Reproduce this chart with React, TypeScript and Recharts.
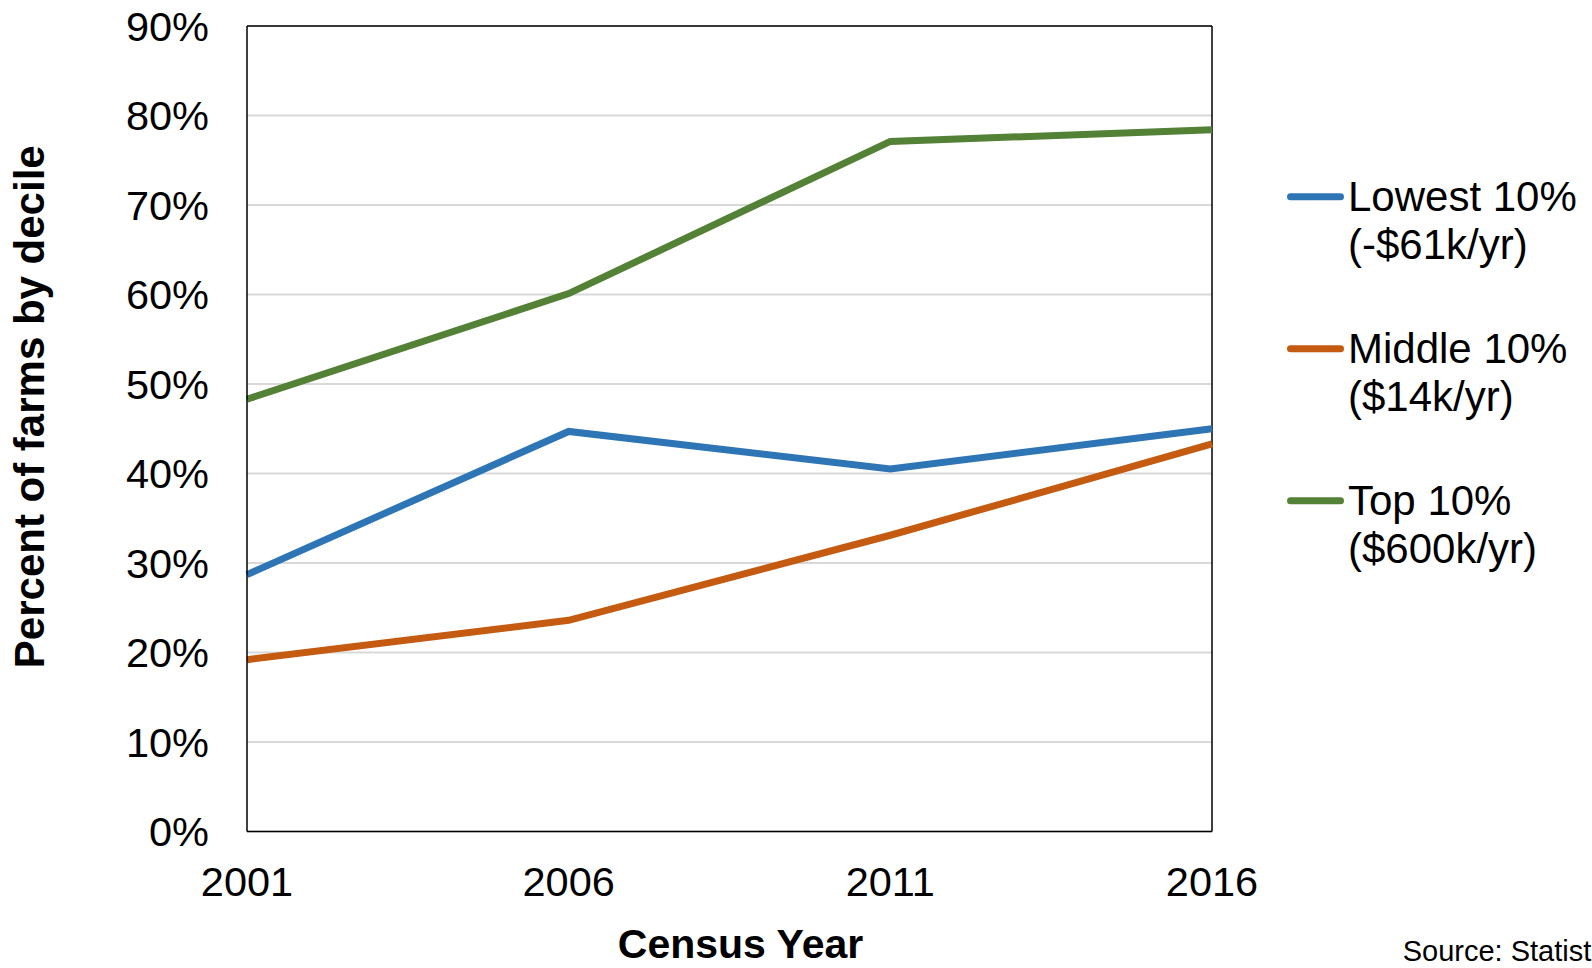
import React from 'react';
import {
  LineChart,
  Line,
  XAxis,
  YAxis,
  CartesianGrid,
  ReferenceLine,
  Legend,
} from 'recharts';

// Census years on the category axis
const years = ['2001', '2006', '2011', '2016'];

// Share of farms (percent) in each income decile, per census
const lowestDecile = [28.7, 44.7, 40.5, 45.0];
const middleDecile = [19.2, 23.6, 33.1, 43.3];
const topDecile = [48.3, 60.1, 77.1, 78.4];

// Y-axis ticks (percent)
const yTicks = [0, 10, 20, 30, 40, 50, 60, 70, 80, 90];

// Legend text: decile name and average income
const seriesKeys = ['lowest', 'middle', 'top'];
const seriesNames = ['Lowest 10%', 'Middle 10%', 'Top 10%'];
const seriesIncome = ['(-$61k/yr)', '($14k/yr)', '($600k/yr)'];
const seriesColors = ['#2E75B6', '#C55A11', '#538135'];

const data = years.map((year, i) => ({
  year,
  lowest: lowestDecile[i],
  middle: middleDecile[i],
  top: topDecile[i],
}));

const FONT = '"Liberation Sans", Arial, Helvetica, sans-serif';

const LegendContent = () => (
  <svg width={312} height={440} style={{ display: 'block' }}>
    {seriesKeys.map((key, i) => (
      <g key={key}>
        <line
          x1={10.5}
          x2={60.5}
          y1={26.7 + 152 * i}
          y2={26.7 + 152 * i}
          stroke={seriesColors[i]}
          strokeWidth={7}
          strokeLinecap="round"
        />
        <text x={68} y={40.7 + 152 * i} fontSize={42} fontFamily={FONT} fill="#000">
          {seriesNames[i]}
        </text>
        <text x={68} y={89 + 152 * i} fontSize={42} fontFamily={FONT} fill="#000">
          {seriesIncome[i]}
        </text>
      </g>
    ))}
  </svg>
);

const XTitle = (props: any) => {
  const vb = props.viewBox || {};
  return (
    <text
      x={vb.x + vb.width / 2 + 11}
      y={958}
      textAnchor="middle"
      fontSize={41}
      fontWeight="bold"
      fontFamily={FONT}
      fill="#000"
    >
      Census Year
    </text>
  );
};

const YTitle = (props: any) => {
  const vb = props.viewBox || {};
  const cy = vb.y + vb.height / 2 - 22;
  return (
    <text
      x={44}
      y={cy}
      transform={`rotate(-90, 44, ${cy})`}
      textAnchor="middle"
      fontSize={42}
      fontWeight="bold"
      fontFamily={FONT}
      fill="#000"
    >
      Percent of farms by decile
    </text>
  );
};

export default function App() {
  return (
    <div
      style={{
        position: 'absolute',
        left: 0,
        top: 0,
        width: 1592,
        height: 968,
        overflow: 'hidden',
        background: '#fff',
        fontFamily: FONT,
      }}
    >
      <LineChart
        width={1592}
        height={968}
        data={data}
        margin={{ top: 26, right: 380, bottom: 0, left: 0 }}
      >
        <CartesianGrid vertical={false} stroke="#D9D9D9" strokeWidth={2} />
        <XAxis
          dataKey="year"
          height={136.5}
          tickLine={false}
          tickSize={0}
          tickMargin={35}
          axisLine={{ stroke: '#000', strokeWidth: 1.5 }}
          tick={{ fontSize: 41.5, fill: '#000', fontFamily: FONT }}
          interval={0}
          label={<XTitle />}
        />
        <YAxis
          width={247}
          domain={[0, 90]}
          ticks={yTicks}
          tickFormatter={(v: number) => `${v}%`}
          tickLine={false}
          tickSize={0}
          tickMargin={38}
          axisLine={{ stroke: '#000', strokeWidth: 1.5 }}
          tick={{ fontSize: 41.5, fill: '#000', fontFamily: FONT }}
          interval={0}
          label={<YTitle />}
        />
        <ReferenceLine y={90} stroke="#000" strokeWidth={1.5} />
        <ReferenceLine x="2016" stroke="#000" strokeWidth={1.5} />
        {seriesKeys.map((key, i) => (
          <Line
            key={key}
            type="linear"
            dataKey={key}
            name={`${seriesNames[i]} ${seriesIncome[i]}`}
            stroke={seriesColors[i]}
            strokeWidth={7}
            dot={false}
            activeDot={false}
            isAnimationActive={false}
          />
        ))}
        <Legend
          layout="vertical"
          align="center"
          verticalAlign="middle"
          content={<LegendContent />}
          wrapperStyle={{ left: 1280, top: 170, width: 312, height: 440 }}
        />
      </LineChart>
      <div
        style={{
          position: 'absolute',
          left: 1402.7,
          top: 934,
          fontSize: 29,
          lineHeight: '34px',
          color: '#000',
          whiteSpace: 'nowrap',
          fontFamily: FONT,
        }}
      >
        Source: Statist
      </div>
    </div>
  );
}
